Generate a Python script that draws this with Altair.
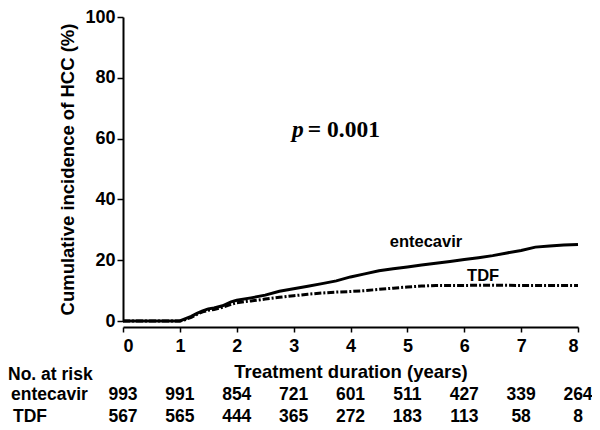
import altair as alt
import pandas as pd

# Kaplan-Meier style cumulative incidence
years_ent = [0, 1.0, 1.1, 1.2, 1.3, 1.4, 1.5, 1.6, 1.75, 1.9, 2.0, 2.25, 2.5, 2.75, 3.0,
             3.25, 3.5, 3.75, 4.0, 4.25, 4.5, 4.75, 5.0, 5.25, 5.5, 5.75, 6.0, 6.25,
             6.5, 6.75, 7.0, 7.25, 7.5, 7.75, 8.0]
cum_ent = [0, 0, 0.8, 1.5, 2.5, 3.3, 4.0, 4.3, 5.0, 6.3, 6.8, 7.6, 8.5, 9.8, 10.6,
           11.4, 12.3, 13.2, 14.5, 15.5, 16.5, 17.2, 17.8, 18.4, 19.0, 19.6, 20.2, 20.8,
           21.5, 22.4, 23.2, 24.3, 24.7, 25.0, 25.2]

years_tdf = [0, 1.0, 1.1, 1.2, 1.3, 1.4, 1.5, 1.6, 1.75, 1.9, 2.0, 2.25, 2.5, 2.75, 3.0,
             3.25, 3.5, 3.75, 4.0, 4.25, 4.5, 4.75, 5.0, 5.25, 5.5, 6.0, 6.5, 7.0, 7.5, 8.0]
cum_tdf = [0, 0, 0.5, 1.2, 2.2, 3.0, 3.5, 3.8, 4.5, 5.5, 6.0, 6.6, 7.2, 7.8, 8.3,
           8.8, 9.2, 9.5, 9.7, 10.0, 10.4, 10.8, 11.2, 11.5, 11.7, 11.7, 11.8, 11.7, 11.7, 11.7]

risk_years = [0, 1, 2, 3, 4, 5, 6, 7, 8]
risk_ent = [993, 991, 854, 721, 601, 511, 427, 339, 264]
risk_tdf = [567, 565, 444, 365, 272, 183, 113, 58, 8]

series_labels = ["entecavir", "TDF"]
label_x = [4.69, 6.05]
label_y = [24.4, 13.05]

p_text = ["p", "= 0.001"]
p_x = [2.97, 3.25]
p_y = [60.6, 60.6]

W, H = 455, 304
FONT = "Liberation Sans"

df_ent = pd.DataFrame({"year": years_ent, "cum": cum_ent})
df_tdf = pd.DataFrame({"year": years_tdf, "cum": cum_tdf})
df_risk_ent = pd.DataFrame({"year": risk_years, "n": risk_ent})
df_risk_tdf = pd.DataFrame({"year": risk_years, "n": risk_tdf})
df_lab = pd.DataFrame({"x": label_x, "y": label_y, "t": series_labels})

x_ticks = [i * 0.25 for i in range(33)]
y_ticks = [i * 5 for i in range(21)]

x_enc = alt.X(
    "year:Q",
    scale=alt.Scale(domain=[0, 8], nice=False),
    axis=alt.Axis(
        values=x_ticks,
        labelExpr="datum.value % 1 === 0 ? format(datum.value, 'd') : ''",
        labelOverlap=False,
        title="Treatment duration (years)",
        offset=6,
        tickSize=5,
        labelPadding=5,
        titlePadding=7,
        grid=False,
    ),
)
y_enc = alt.Y(
    "cum:Q",
    scale=alt.Scale(domain=[0, 100], nice=False),
    axis=alt.Axis(
        values=y_ticks,
        labelExpr="datum.value % 20 === 0 ? datum.label : ''",
        labelOverlap=False,
        title="Cumulative incidence of HCC (%)",
        tickSize={"condition": {"test": "datum.value % 20 === 0", "value": 6}, "value": 3},
        labelPadding=2,
        titlePadding=7,
        grid=False,
    ),
)

line_ent = alt.Chart(df_ent).mark_line(color="black", strokeWidth=3).encode(x=x_enc, y=y_enc)
line_tdf = alt.Chart(df_tdf).mark_line(
    color="black", strokeWidth=3, strokeDash=[7, 2, 2, 2]
).encode(x="year:Q", y="cum:Q")

labels = alt.Chart(df_lab).mark_text(
    font=FONT, fontWeight="bold", fontSize=16.5, align="left", baseline="alphabetic", color="black"
).encode(x="x:Q", y="y:Q", text="t:N")

p_df = pd.DataFrame({"x": p_x, "y": p_y, "t": p_text})
p_italic = alt.Chart(p_df.iloc[[0]]).mark_text(
    font="Liberation Serif", fontWeight="bold", fontStyle="italic", fontSize=23.5,
    align="left", baseline="alphabetic", color="black"
).encode(x="x:Q", y="y:Q", text="t:N")
p_rest = alt.Chart(p_df.iloc[[1]]).mark_text(
    font="Liberation Serif", fontWeight="bold", fontSize=23.5,
    align="left", baseline="alphabetic", color="black"
).encode(x="x:Q", y="y:Q", text="t:N")

row_ent = alt.Chart(df_risk_ent).mark_text(
    font=FONT, fontWeight="bold", fontSize=17.5, align="center", baseline="alphabetic", color="black"
).encode(x="year:Q", y=alt.value(383), text="n:Q")
row_tdf = alt.Chart(df_risk_tdf).mark_text(
    font=FONT, fontWeight="bold", fontSize=17.5, align="center", baseline="alphabetic", color="black"
).encode(x="year:Q", y=alt.value(405), text="n:Q")

row_heads = pd.DataFrame({"t": ["No. at risk", "entecavir", "TDF"],
                          "px": [-115, -112, -110], "py": [363, 383, 405]})
heads = alt.Chart(row_heads).mark_text(
    font=FONT, fontWeight="bold", fontSize=17.5, align="left", baseline="alphabetic", color="black"
).encode(
    x=alt.X("px:Q", scale=None),
    y=alt.Y("py:Q", scale=None),
    text="t:N",
)

chart = alt.layer(
    line_tdf, line_ent, labels, p_italic, p_rest, row_ent, row_tdf, heads
).properties(
    width=W, height=H,
    autosize=alt.AutoSizeParams(type="none"),
    padding={"left": 115, "top": 9, "right": 14, "bottom": 106},
    background="white",
).configure_view(stroke=None).configure_axis(
    labelFont=FONT, labelFontWeight="bold", labelFontSize=18, labelColor="black",
    titleFont=FONT, titleFontWeight="bold", titleFontSize=18.5, titleColor="black",
    domainColor="black", domainWidth=2, tickColor="black", tickWidth=1.5,
)

chart.save("out.html", embed_options={"renderer": "svg", "actions": False})
